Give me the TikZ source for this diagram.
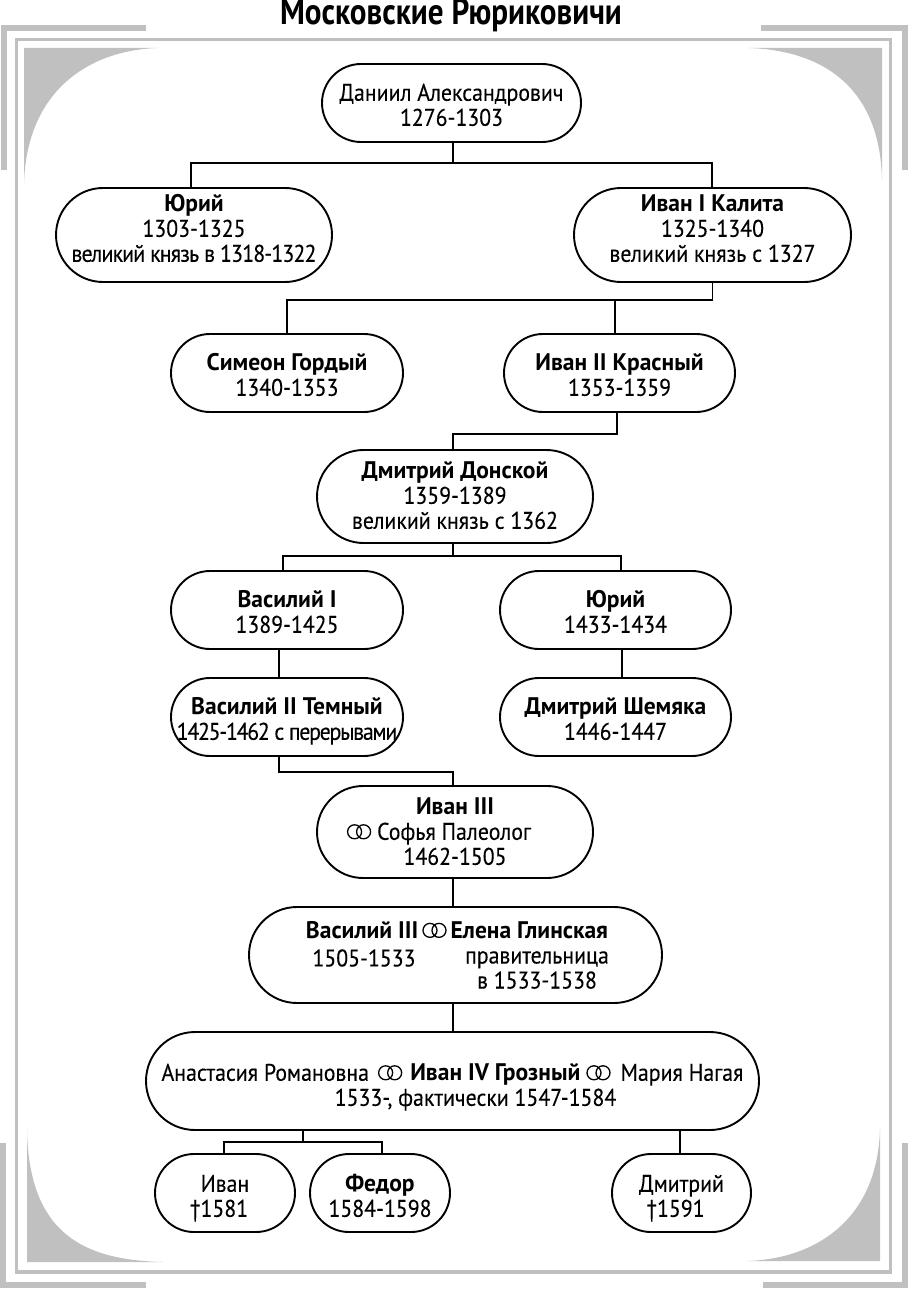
\documentclass[tikz,border=0pt]{standalone}
\usepackage{fontspec}
\setmainfont[FakeStretch=0.91, UprightFeatures={FakeBold=0.15}, BoldFeatures={FakeStretch=0.98}]{PT Sans}
\newfontfamily\titlefont[FakeStretch=0.84]{PT Sans}
\usetikzlibrary{shapes.misc}
\definecolor{framegray}{HTML}{C0C0C0}
\tikzset{
    famnode/.style={draw, rounded rectangle, line width=1.9pt, inner sep=0pt, outer sep=0pt, font=\fontsize{24}{25}\selectfont},
    famtext/.style={inner sep=0pt, align=center, font=\fontsize{24}{25}\selectfont},
    link/.style={line width=1.9pt},
    band/.style={framegray, line width=6.3pt},
    corner/.style={fill=framegray, draw=none}
}
\newcommand{\rings}{\tikz[baseline=-4.5pt, x=1pt, y=1pt]{\draw[line width=1.3pt] (-4.5,3.5) circle (7) (4.5,3.5) circle (7);}}
\newcommand{\famlines}[2]{\raisebox{\dimexpr#1pt-0.25em-1pt\relax}[0pt][0pt]{\begin{tabular}{@{}c@{}}#2\end{tabular}}}
\newcommand{\tight}[2]{{\addfontfeature{LetterSpace=#1}#2}}
\begin{document}
\begin{tikzpicture}[x=1pt, y=-1pt]
    \useasboundingbox (0,0) rectangle (908,1289);

    \draw[band] (146,28) -- (4,28) -- (4,170);
    \draw[band] (761,28) -- (905,28) -- (905,170);
    \draw[band] (3,1143) -- (3,1285) -- (146,1285);
    \draw[band] (905,1143) -- (905,1285) -- (763,1285);
    \draw[framegray, line width=3.5pt] (16.3,39.7) rectangle (890.5,1272);

    \fill[corner] (24,48) -- (158,48) .. controls (90,50) and (26,90) .. (24,185) -- cycle;
    \fill[corner] (882,48) -- (748,48) .. controls (820,50) and (880,85) .. (882,180) -- cycle;
    \fill[corner] (27,1262) -- (163,1262) .. controls (85,1260) and (29,1235) .. (27,1130) -- cycle;
    \fill[corner] (880,1261) -- (747,1261) .. controls (815,1259) and (878,1220) .. (880,1128) -- cycle;

    \node[inner sep=0pt, anchor=base, font=\fontsize{37}{40}\titlefont\bfseries] (title) at (451,25) {Московские Рюриковичи};

    \node[famnode, minimum width=259, minimum height=78] (daniil) at (451.5,103) {\famlines{-4.5}{Даниил Александрович\\1276-1303}};
    \node[famnode, minimum width=276, minimum height=94] (yuri) at (194,235) {\famlines{4}{\textbf{Юрий}\\1303-1325\\\tight{-3.5}{великий князь в 1318-1322}}};
    \node[famnode, minimum width=277, minimum height=94] (ivanI) at (712.5,235) {\famlines{4}{\textbf{Иван I Калита}\\1325-1340\\великий князь с 1327}};
    \node[famnode, minimum width=232, minimum height=78] (simeon) at (287,373) {\famlines{-4.5}{\textbf{Симеон Гордый}\\1340-1353}};
    \node[famnode, minimum width=231, minimum height=78] (ivanII) at (619.5,373) {\famlines{-4.5}{\textbf{Иван II Красный}\\1353-1359}};
    \node[famnode, minimum width=276, minimum height=93] (dmitry) at (455,496.5) {\famlines{-1.5}{\textbf{Дмитрий Донской}\\1359-1389\\великий князь с 1362}};
    \node[famnode, minimum width=232, minimum height=78] (vasilyI) at (287,610) {\famlines{-4.5}{\textbf{Василий I}\\1389-1425}};
    \node[famnode, minimum width=231, minimum height=78] (yuriII) at (615.5,610) {\famlines{-4.5}{\textbf{Юрий}\\1433-1434}};
    \node[famnode, minimum width=232, minimum height=78] (vasilyII) at (287,717) {\famlines{-4.5}{\textbf{Василий II Темный}\\\tight{-5.2}{1425-1462 с перерывами}}};
    \node[famnode, minimum width=231, minimum height=78] (shemyaka) at (615.5,717) {\famlines{-4.5}{\textbf{Дмитрий Шемяка}\\1446-1447}};
    \node[famnode, minimum width=276, minimum height=92] (ivanIII) at (455,832) {\famlines{-2}{\textbf{Иван III}\\\rings\ Софья Палеолог\hspace*{32pt}\\1462-1505}};
    \node[famnode, minimum width=413, minimum height=96] (vasilyIII) at (455.5,955) {};
    \node[famtext] (vasilyIIInames) at (457,930) {\textbf{Василий III}\,\rings\,\textbf{Елена Глинская}};
    \node[famtext] (vasilyIIIyears) at (364,958) {1505-1533};
    \node[famtext] (elenayears) at (537,970) {правительница\\в 1533-1538};
    \node[famnode, minimum width=613, minimum height=98] (ivanIV) at (452.5,1081) {\famlines{-6.5}{Анастасия Романовна\hspace{9pt}\rings\hspace{8pt}\textbf{Иван IV Грозный}\hspace{6pt}\rings\hspace{10pt}Мария Нагая\\\hspace*{46pt}1533-, фактически 1547-1584}};
    \node[famnode, minimum width=140, minimum height=78] (ivan) at (225,1193) {\famlines{-5.5}{Иван\\†1581\hspace*{12pt}}};
    \node[famnode, minimum width=140, minimum height=78] (fedor) at (380,1193) {\famlines{-5.5}{\textbf{Федор}\\1584-1598}};
    \node[famnode, minimum width=139, minimum height=78] (dmitriy) at (681.5,1193) {\famlines{-5.5}{Дмитрий\\†1591\hspace*{12pt}}};

    \coordinate (fork1) at (453,163);
    \coordinate (fork2) at (712.5,300);
    \coordinate (fork3) at (453,434);
    \coordinate (fork4) at (453,556);
    \coordinate (fork5) at (453,772);
    \coordinate (fork6) at (303,1142);

    \draw[link] ([xshift=1.5]daniil.south) -- (fork1);
    \draw[link] ([xshift=-3]yuri.north) |- (fork1) -| ([xshift=-0.5]ivanI.north);
    \draw[link] (ivanI.south) -- (fork2);
    \draw[link] (simeon.north) |- (fork2);
    \draw[link] ([xshift=-4.5]ivanII.north) -- ([xshift=-4.5]ivanII.north |- fork2);
    \draw[link] ([xshift=-2.5]ivanII.south) |- (fork3) -- ([xshift=-2]dmitry.north);
    \draw[link] ([xshift=-2]dmitry.south) -- (fork4);
    \draw[link] ([xshift=-4]vasilyI.north) |- (fork4) -| ([xshift=5.5]yuriII.north);
    \draw[link] ([xshift=-8]vasilyI.south) -- ([xshift=-8]vasilyII.north);
    \draw[link] ([xshift=6.5]yuriII.south) -- ([xshift=6.5]shemyaka.north);
    \draw[link] ([xshift=-8]vasilyII.south) |- (fork5) -- ([xshift=-2]ivanIII.north);
    \draw[link] ([xshift=-2]ivanIII.south) -- ([xshift=-2.5]vasilyIII.north);
    \draw[link] ([xshift=-2.5]vasilyIII.south) -- ([xshift=0.5]ivanIV.north);
    \draw[link] ([xshift=-149.5]ivanIV.south) -- (fork6);
    \draw[link] ([xshift=-1]ivan.north) |- (fork6) -| ([xshift=2]fedor.north);
    \draw[link] ([xshift=227.5]ivanIV.south) -- ([xshift=-1.5]dmitriy.north);
\end{tikzpicture}
\end{document}
